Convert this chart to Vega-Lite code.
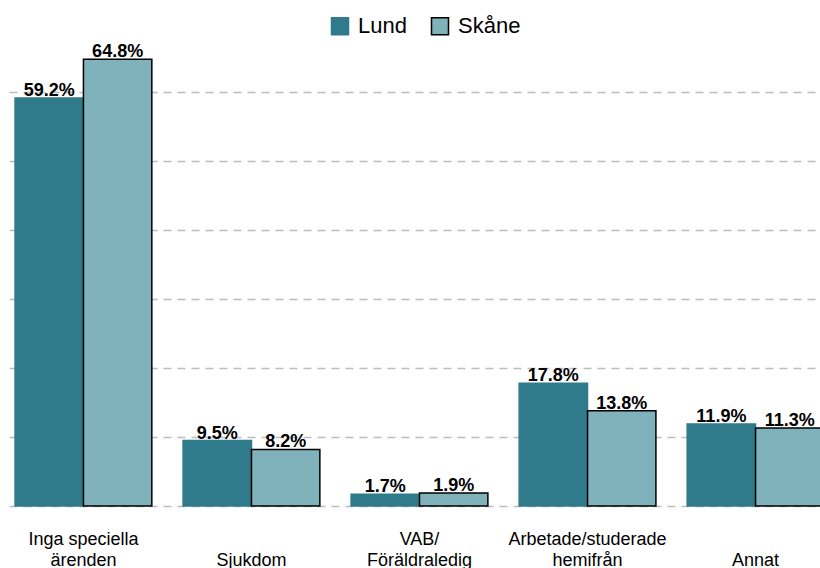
{
  "$schema": "https://vega.github.io/schema/vega-lite/v6.json",
  "width": 821,
  "height": 455,
  "autosize": {"type": "none"},
  "padding": {"left": 9, "top": 51, "right": -10, "bottom": 62},
  "background": "white",
  "config": {"view": {"stroke": null}, "font": "Liberation Sans"},
  "data": {
    "values": [
      {"cat": "Inga speciella|ärenden", "series": "Lund", "value": 0.592},
      {"cat": "Inga speciella|ärenden", "series": "Skåne", "value": 0.648},
      {"cat": "Sjukdom", "series": "Lund", "value": 0.095},
      {"cat": "Sjukdom", "series": "Skåne", "value": 0.082},
      {"cat": "VAB/|Föräldraledig", "series": "Lund", "value": 0.017},
      {"cat": "VAB/|Föräldraledig", "series": "Skåne", "value": 0.019},
      {"cat": "Arbetade/studerade|hemifrån", "series": "Lund", "value": 0.178},
      {"cat": "Arbetade/studerade|hemifrån", "series": "Skåne", "value": 0.138},
      {"cat": "Annat", "series": "Lund", "value": 0.119},
      {"cat": "Annat", "series": "Skåne", "value": 0.113}
    ]
  },
  "encoding": {
    "x": {
      "field": "cat", "type": "nominal", "sort": null,
      "scale": {"paddingInner": 0.186, "paddingOuter": 0.036},
      "axis": {"title": null, "domain": false, "ticks": false, "tickSize": 0, "grid": false, "labelAngle": 0, "labelFontSize": 18, "labelColor": "black", "labelExpr": "indexof(datum.label, '|') >= 0 ? split(datum.label, '|') : ['', datum.label]", "labelBaseline": "top", "labelPadding": 24, "labelLineHeight": 21, "labelLimit": 300}
    },
    "xOffset": {"field": "series", "type": "nominal", "sort": ["Lund", "Skåne"], "scale": {"paddingInner": 0, "paddingOuter": 0}},
    "y": {
      "field": "value", "type": "quantitative",
      "scale": {"domain": [0, 0.66], "nice": false},
      "axis": {"title": null, "labels": false, "ticks": false, "domain": false, "values": [0, 0.1, 0.2, 0.3, 0.4, 0.5, 0.6], "grid": true, "gridDash": [8, 6], "gridColor": "#bdbdbd", "gridWidth": 1.5}
    }
  },
  "layer": [
    {
      "mark": {"type": "bar", "strokeWidth": 1.5},
      "encoding": {
        "color": {"field": "series", "type": "nominal", "scale": {"domain": ["Lund", "Skåne"], "range": ["#2f7b8c", "#7fb2bb"]},
          "legend": {"title": null, "orient": "none", "legendX": 320, "legendY": -36, "direction": "horizontal", "labelFontSize": 22, "labelColor": "black", "symbolType": "square", "symbolSize": 289, "symbolStrokeWidth": 1.5, "symbolOpacity": 1, "labelOffset": 7, "columnPadding": 21}},
        "stroke": {"field": "series", "type": "nominal", "scale": {"domain": ["Lund", "Skåne"], "range": ["#2f7b8c", "#000000"]},
          "legend": {"title": null, "orient": "none", "legendX": 320, "legendY": -36, "direction": "horizontal", "labelFontSize": 22, "labelColor": "black", "symbolType": "square", "symbolSize": 289, "symbolStrokeWidth": 1.5, "symbolOpacity": 1, "labelOffset": 7, "columnPadding": 21}}
      }
    },
    {
      "mark": {"type": "text", "dy": -2, "baseline": "alphabetic", "fontWeight": "bold", "fontSize": 18, "color": "black"},
      "encoding": {"text": {"field": "value", "type": "quantitative", "format": ".1%"}}
    }
  ]
}
